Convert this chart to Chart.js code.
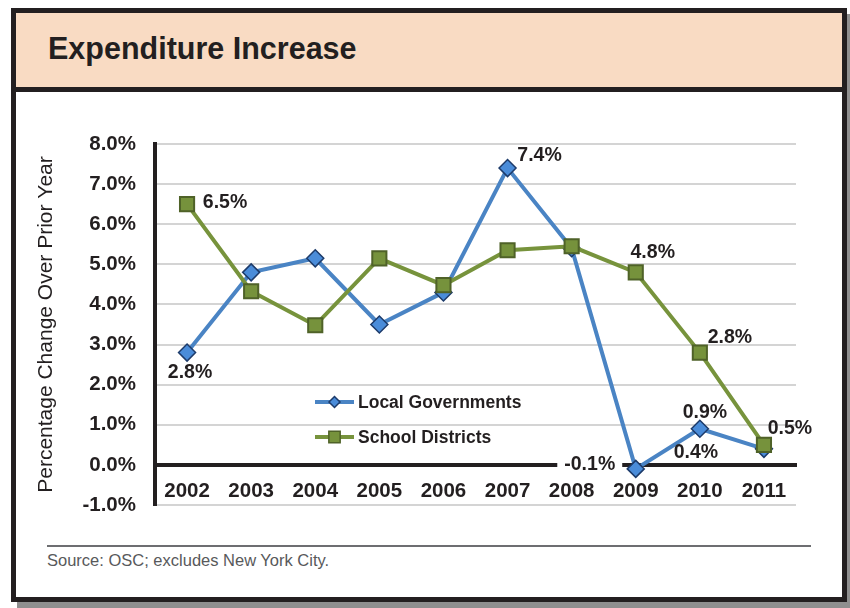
<!DOCTYPE html>
<html>
<head>
<meta charset="utf-8">
<script src="https://cdn.jsdelivr.net/npm/chart.js@4/dist/chart.umd.min.js"></script>
<style>
	html, body { margin: 0; padding: 0; background: #fff; }
	body { width: 850px; height: 608px; position: relative; overflow: hidden; font-family: "Liberation Sans", Arial, sans-serif; }
	#shadow { position: absolute; left: 17px; top: 14px; width: 833px; height: 594px; background: #8f8f8f; }
	#frame { position: absolute; left: 11px; top: 8px; width: 836px; height: 594px; box-sizing: border-box; border: 5px solid #231f20; background: #fff; }
	#band { position: absolute; left: 0; top: 0; right: 0; height: 79px; box-sizing: border-box; background: #f9dbc3; border-bottom: 5px solid #231f20; }
	#title { position: absolute; left: 48px; top: 33px; font: bold 30.5px/30px "Liberation Sans", Arial, sans-serif; color: #231f20; white-space: nowrap; }
	#rule { position: absolute; left: 47px; top: 545px; width: 764px; height: 2px; background: #6d6e71; }
	#source { position: absolute; left: 47px; top: 552px; font: 16.5px/16px "Liberation Sans", Arial, sans-serif; color: #58595b; white-space: nowrap; }
	#chart { position: absolute; left: 0; top: 0; }
</style>
</head>
<body>
<div id="shadow"></div>
<div id="frame"><div id="band"></div></div>
<div id="title">Expenditure Increase</div>
<div id="rule"></div>
<div id="source">Source: OSC; excludes New York City.</div>
<canvas id="chart" width="850" height="608"></canvas>
<script>
// data
const years = ['2002', '2003', '2004', '2005', '2006', '2007', '2008', '2009', '2010', '2011'];
const localGovernments = [2.8, 4.8, 5.15, 3.5, 4.3, 7.4, 5.4, -0.1, 0.9, 0.4];
const schoolDistricts = [6.5, 4.33, 3.48, 5.15, 4.48, 5.35, 5.45, 4.8, 2.8, 0.5];
const yTicks = [-1, 0, 1, 2, 3, 4, 5, 6, 7, 8];

// which points carry a value label, and where the label sits relative to the point
const localLabelOffsets = { 0: [3, 20], 5: [32, -12], 7: [-46, -4], 8: [5, -16], 9: [-68, 4] };
const schoolLabelOffsets = { 0: [38, -2], 7: [17, -20], 8: [30, -15], 9: [26, -16] };

const BLUE_LINE = '#4a84c4', BLUE_FILL = '#4a8cd9', BLUE_EDGE = '#1d3b6a';
const GREEN_LINE = '#77933c', GREEN_FILL = '#76923c', GREEN_EDGE = '#4f6228';
const INK = '#231f20';

const fmtPct = v => v.toFixed(1) + '%';

const valueLabels = {
	id: 'valueLabels',
	afterDatasetsDraw(chart) {
		const ctx = chart.ctx;
		ctx.save();
		ctx.font = 'bold 19.5px "Liberation Sans", Arial, sans-serif';
		ctx.textAlign = 'center';
		ctx.textBaseline = 'middle';
		chart.data.datasets.forEach((ds, di) => {
			const meta = chart.getDatasetMeta(di);
			Object.entries(ds.labelOffsets).forEach(([i, off]) => {
				const pt = meta.data[i];
				const text = fmtPct(ds.data[i]);
				const x = pt.x + off[0], y = pt.y + off[1];
				if (ds.data[i] < 0) {
					// knock the label out of the zero line
					const w = ctx.measureText(text).width + 14;
					ctx.fillStyle = '#fff';
					ctx.fillRect(x - w / 2, y - 9, w, 16);
				}
				ctx.fillStyle = INK;
				ctx.fillText(text, x, y);
			});
		});
		ctx.restore();
	}
};

// legend drawn inside the plot area
const legendRows = [
	{ text: 'Local Governments', line: BLUE_LINE, fill: BLUE_FILL, edge: BLUE_EDGE, style: 'rectRot', radius: 5.5, x: 315, y: 402 },
	{ text: 'School Districts', line: GREEN_LINE, fill: GREEN_FILL, edge: GREEN_EDGE, style: 'rect', radius: 8, x: 315, y: 437 }
];

const insideLegend = {
	id: 'insideLegend',
	afterDatasetsDraw(chart) {
		const ctx = chart.ctx;
		ctx.save();
		legendRows.forEach(r => {
			ctx.strokeStyle = r.line;
			ctx.lineWidth = 4;
			ctx.beginPath();
			ctx.moveTo(r.x, r.y);
			ctx.lineTo(r.x + 39, r.y);
			ctx.stroke();
			ctx.fillStyle = r.fill;
			ctx.strokeStyle = r.edge;
			ctx.lineWidth = 1.5;
			Chart.helpers.drawPoint(ctx, { pointStyle: r.style, radius: r.radius, rotation: 0, borderWidth: 1.5 }, r.x + 19.5, r.y);
			ctx.fillStyle = INK;
			ctx.font = 'bold 17.5px "Liberation Sans", Arial, sans-serif';
			ctx.textAlign = 'left';
			ctx.textBaseline = 'middle';
			ctx.fillText(r.text, r.x + 43, r.y + 1);
		});
		ctx.restore();
	}
};

Chart.defaults.font.family = '"Liberation Sans", Arial, sans-serif';
Chart.defaults.color = INK;

new Chart(document.getElementById('chart').getContext('2d'), {
	type: 'line',
	data: {
		labels: years,
		datasets: [{
			label: 'Local Governments',
			data: localGovernments,
			labelOffsets: localLabelOffsets,
			borderColor: BLUE_LINE,
			borderWidth: 4,
			pointStyle: 'rectRot',
			pointRadius: 8.5,
			pointBackgroundColor: BLUE_FILL,
			pointBorderColor: BLUE_EDGE,
			pointBorderWidth: 1.5,
			tension: 0,
			order: 2
		}, {
			label: 'School Districts',
			data: schoolDistricts,
			labelOffsets: schoolLabelOffsets,
			borderColor: GREEN_LINE,
			borderWidth: 4,
			pointStyle: 'rect',
			pointRadius: 10,
			pointBackgroundColor: GREEN_FILL,
			pointBorderColor: GREEN_EDGE,
			pointBorderWidth: 2,
			tension: 0,
			order: 1
		}]
	},
	options: {
		responsive: false,
		animation: false,
		devicePixelRatio: 1,
		layout: { padding: { left: 0, right: 54, top: 144, bottom: 103 } },
		plugins: { legend: { display: false }, tooltip: { enabled: false } },
		scales: {
			x: {
				position: { y: 0 },
				offset: true,
				grid: { display: false, drawTicks: false },
				border: { color: INK, width: 4 },
				ticks: { padding: 14, font: { size: 20.5, weight: 'bold' }, color: INK, maxRotation: 0 }
			},
			y: {
				min: -1,
				max: 8,
				afterBuildTicks: scale => { scale.ticks = yTicks.map(v => ({ value: v })); },
				afterFit: scale => { scale.width = 155; },
				grid: {
					drawTicks: false,
					lineWidth: 2,
					color: c => c.tick && c.tick.value === 0 ? 'rgba(0,0,0,0)' : '#d4d4d4'
				},
				border: { color: INK, width: 4 },
				ticks: { padding: 19, font: { size: 20.5, weight: 'bold' }, color: INK, callback: v => fmtPct(v) },
				title: {
					display: true,
					text: 'Percentage Change Over Prior Year',
					font: { size: 21, weight: 'normal' },
					color: INK,
					padding: { top: 34, bottom: 0 }
				}
			}
		}
	},
	plugins: [valueLabels, insideLegend]
});
</script>
</body>
</html>
